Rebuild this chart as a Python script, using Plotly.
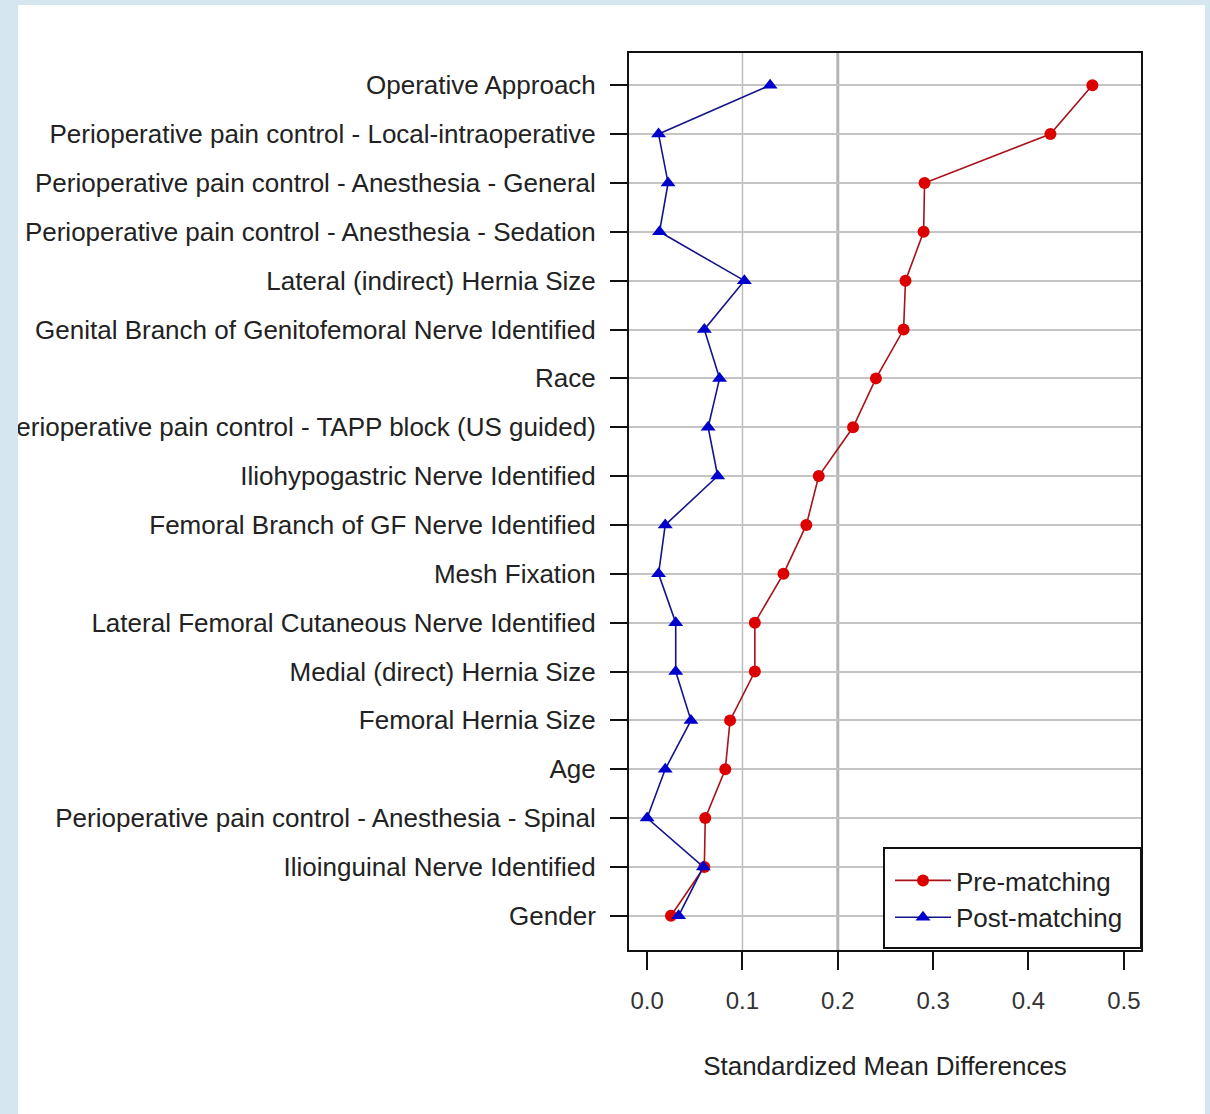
import plotly.graph_objects as go

categories = [
    "Operative Approach",
    "Perioperative pain control - Local-intraoperative",
    "Perioperative pain control - Anesthesia - General",
    "Perioperative pain control - Anesthesia - Sedation",
    "Lateral (indirect) Hernia Size",
    "Genital Branch of Genitofemoral Nerve Identified",
    "Race",
    "Perioperative pain control - TAPP block (US guided)",
    "Iliohypogastric Nerve Identified",
    "Femoral Branch of GF Nerve Identified",
    "Mesh Fixation",
    "Lateral Femoral Cutaneous Nerve Identified",
    "Medial (direct) Hernia Size",
    "Femoral Hernia Size",
    "Age",
    "Perioperative pain control - Anesthesia - Spinal",
    "Ilioinguinal Nerve Identified",
    "Gender",
]
pre_matching = [0.467, 0.423, 0.291, 0.290, 0.271, 0.269, 0.240, 0.216, 0.180,
                0.167, 0.143, 0.113, 0.113, 0.087, 0.082, 0.061, 0.060, 0.025]
post_matching = [0.129, 0.012, 0.022, 0.013, 0.102, 0.060, 0.076, 0.064, 0.074,
                 0.019, 0.012, 0.030, 0.030, 0.046, 0.019, 0.000, 0.059, 0.033]
x_ticks = [0.0, 0.1, 0.2, 0.3, 0.4, 0.5]
ref_lines = [0.1, 0.2]

FONT = "Arial, Liberation Sans, sans-serif"

fig = go.Figure()
fig.add_trace(go.Scatter(
    x=pre_matching, y=categories, mode="lines+markers", name="Pre-matching",
    line=dict(color="#a81218", width=1.6),
    marker=dict(symbol="circle", size=12, color="#dd0000"),
))
fig.add_trace(go.Scatter(
    x=post_matching, y=categories, mode="lines+markers", name="Post-matching",
    line=dict(color="#14148a", width=1.6),
    marker=dict(symbol="triangle-up", size=13, color="#0000cc"),
))

# reference lines
fig.add_shape(type="line", xref="x", yref="paper", x0=ref_lines[0], x1=ref_lines[0],
              y0=0, y1=1, line=dict(color="#bdbdbd", width=1.5), layer="below")
fig.add_shape(type="line", xref="x", yref="paper", x0=ref_lines[1], x1=ref_lines[1],
              y0=0, y1=1, line=dict(color="#b4b4b4", width=3), layer="below")

# page geometry
W, H = 1210, 1114
L, R, T, B = 629, 69, 53, 164
pw, ph = W - L - R, H - T - B
def px(x):
    return (x - L) / pw
def py(y):
    return (H - B - y) / ph

# page frame (light blue border)
blue = "#d6e6f0"
for (x0, x1, y0, y1) in [(0, 18, 0, H), (0, W, 0, 5), (1205, W, 0, H)]:
    fig.add_shape(type="rect", xref="paper", yref="paper",
                  x0=px(x0), x1=px(x1), y0=py(y1), y1=py(y0),
                  fillcolor=blue, line=dict(width=0), layer="above")

# legend box
fig.add_shape(type="rect", xref="paper", yref="paper",
              x0=px(884), x1=1.0, y0=py(948), y1=py(848),
              fillcolor="white", line=dict(color="#111111", width=2), layer="above")

fig.update_layout(
    width=W, height=H,
    margin=dict(l=L, r=R, t=T, b=B, autoexpand=False),
    paper_bgcolor="white", plot_bgcolor="white",
    font=dict(family=FONT, size=26, color="#222222"),
    showlegend=True,
    legend=dict(
        x=px(890), y=py(857), xanchor="left", yanchor="top",
        bgcolor="rgba(0,0,0,0)", borderwidth=0,
        font=dict(size=26, color="#222222"),
        tracegroupgap=0, itemwidth=56,
    ),
)
fig.update_xaxes(
    range=[-0.019, 0.518], tickvals=x_ticks, tickformat=".1f",
    showgrid=False, zeroline=False, automargin=False,
    showline=True, linecolor="#111111", linewidth=2, mirror=True,
    ticks="outside", ticklen=18, tickwidth=2, tickcolor="#111111",
    tickfont=dict(size=24, color="#333333"), ticklabelstandoff=10,
    title=dict(text="Standardized Mean Differences", standoff=44,
               font=dict(size=26, color="#222222")),
)
fig.update_yaxes(
    type="category", categoryorder="array", categoryarray=categories[::-1],
    range=[-0.70, 17.66], automargin=False,
    showgrid=True, gridcolor="#c4c4c4", gridwidth=2, zeroline=False,
    showline=True, linecolor="#111111", linewidth=2, mirror=True,
    ticks="outside", ticklen=17, tickwidth=2, tickcolor="#111111",
    tickfont=dict(size=26, color="#222222"), ticklabelstandoff=9,
)

fig.write_html("out.html", config={"displayModeBar": False},
               post_script="document.body.style.margin='0px';document.body.style.overflow='hidden';")
